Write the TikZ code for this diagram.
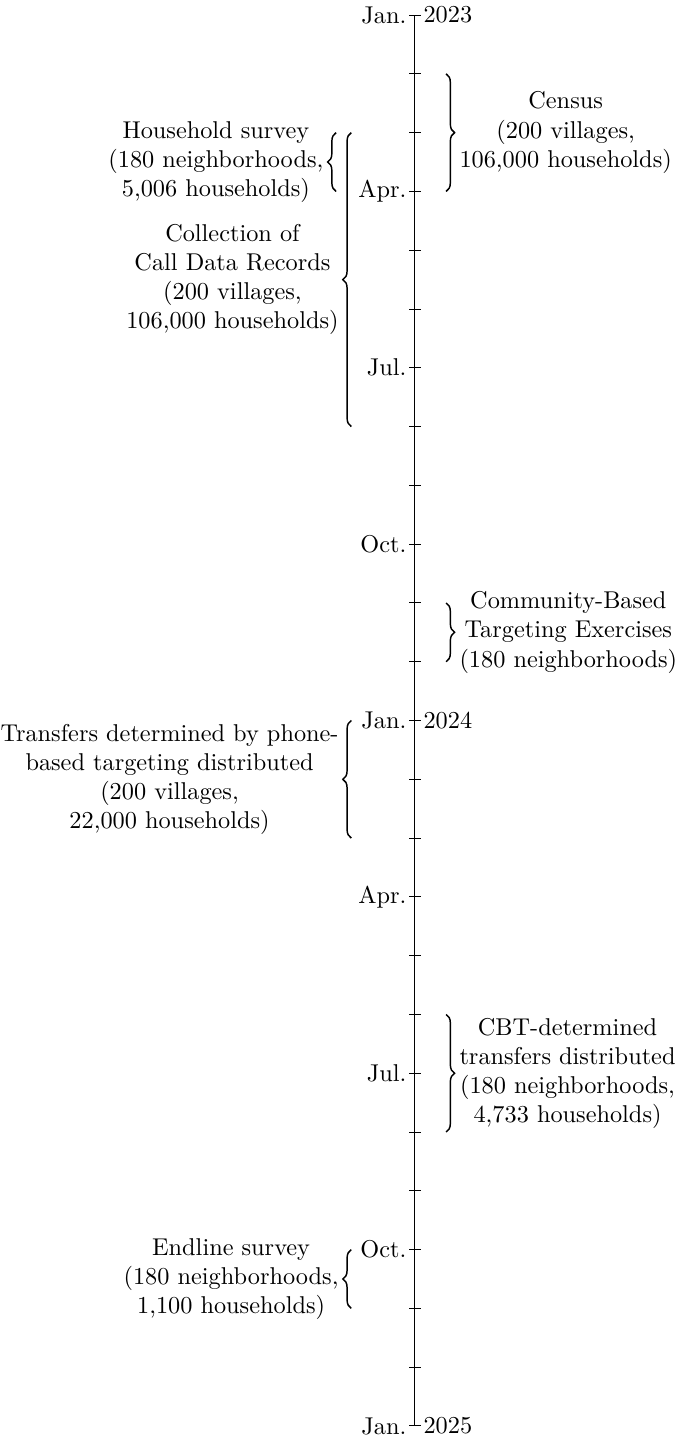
\documentclass[tikz,border=0pt]{standalone}
\usepackage{tikz}
\usetikzlibrary{decorations.pathreplacing}
\tikzset{
	timebrace/.style={decorate, decoration={brace, amplitude=3.5pt}, line width=0.6pt},
	eventtext/.style={align=center}
}

\begin{document}
\begin{tikzpicture}[y=-0.85cm]
			%%%%% START %%%%%
			\useasboundingbox (-6.0, -0.256) rectangle (3.775, 24.205);
			
			\draw (0, 0) -- (0, 24);
			\foreach \m in {0,...,24}
				\draw (-0.08, \m) -- (0.08, \m);
			
			\foreach \m/\mon in {0/Jan., 3/Apr., 6/Jul., 9/Oct., 12/Jan., 15/Apr., 18/Jul., 21/Oct., 24/Jan.}
				\node[left] (mon\m) at (0, \m) {\mon};
			\foreach \m/\yr in {0/2023, 12/2024, 24/2025}
				\node[right] (yr\yr) at (0, \m) {\yr};
			
			% right side
			\draw[timebrace] (0.45, 1) -- (0.45, 3);
			\node[eventtext, anchor=west] (census) at (0.52, 2) {Census\\(200 villages,\\106,000 households)};
			
			\draw[timebrace] (0.45, 10) -- (0.45, 11);
			\node[eventtext, anchor=west] (cbtex) at (0.52, 10.5) {Community-Based\\Targeting Exercises\\(180 neighborhoods)};
			
			\draw[timebrace] (0.45, 17) -- (0.45, 19);
			\node[eventtext, anchor=west] (cbtpay) at (0.52, 18) {CBT-determined\\transfers distributed\\(180 neighborhoods,\\4,733 households)};
			
			% left side
			\draw[timebrace] (-1.14, 3) -- (-1.14, 2);
			\node[eventtext, anchor=east] (hhsurvey) at (-1.2, 2.5) {Household survey\\(180 neighborhoods,\\5,006 households)};
			
			\draw[timebrace] (-0.92, 7) -- (-0.92, 2);
			\node[eventtext, anchor=east] (cdr) at (-0.98, 4.5) {Collection of\\Call Data Records\\(200 villages,\\106,000 households)};
			
			\draw[timebrace] (-0.92, 14) -- (-0.92, 12);
			\node[eventtext, anchor=east] (phonepay) at (-0.98, 13) {Transfers determined by phone-\\based targeting distributed\\(200 villages,\\22,000 households)};
			
			\draw[timebrace] (-0.92, 22) -- (-0.92, 21);
			\node[eventtext, anchor=east] (endline) at (-0.98, 21.5) {Endline survey\\(180 neighborhoods,\\1,100 households)};
			
			%%%%% END %%%%%
\end{tikzpicture}
\end{document}
